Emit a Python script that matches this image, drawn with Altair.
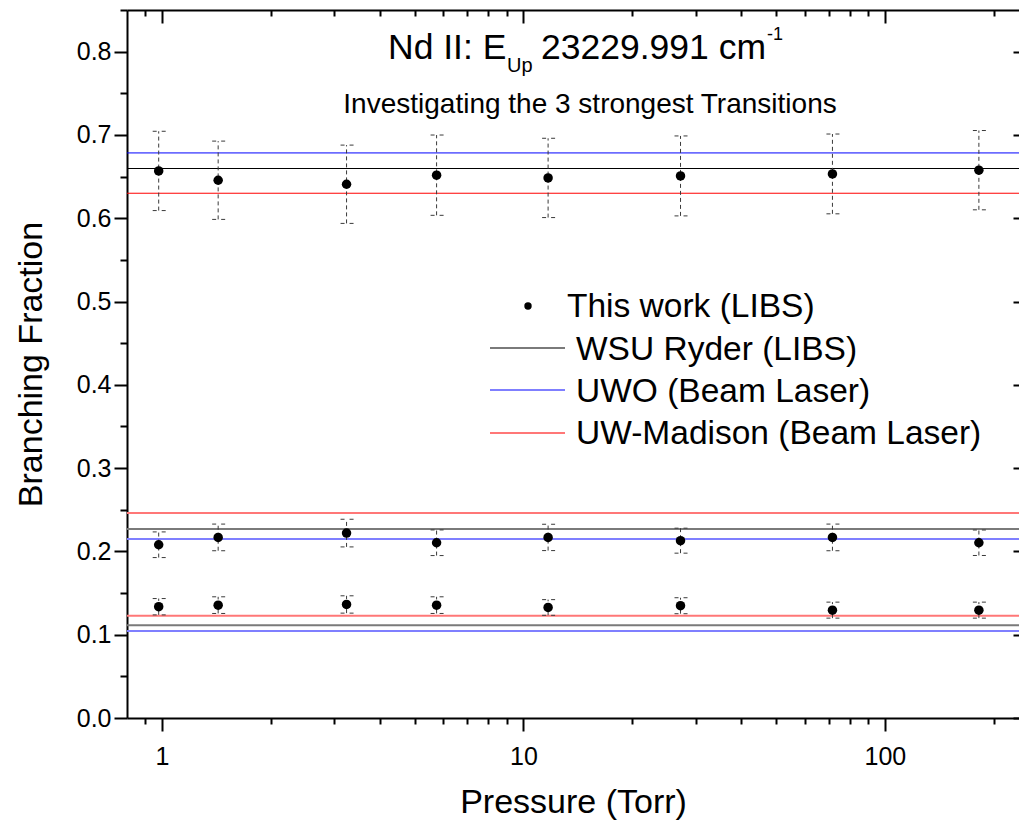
import altair as alt
import pandas as pd

# ---------------- data ----------------
pressure = [0.979, 1.43, 3.24, 5.75, 11.7, 27.2, 71.6, 182]

bf_strong1 = [0.6568, 0.6456, 0.6408, 0.6517, 0.6484, 0.6508, 0.6532, 0.6577]
err_strong1 = [0.0476, 0.0470, 0.0470, 0.0482, 0.0476, 0.0480, 0.0479, 0.0476]

bf_strong2 = [0.2080, 0.2168, 0.2220, 0.2104, 0.2168, 0.2129, 0.2168, 0.2104]
err_strong2 = [0.0154, 0.0160, 0.0166, 0.0154, 0.0158, 0.0150, 0.0160, 0.0153]

bf_strong3 = [0.1336, 0.1355, 0.1363, 0.1355, 0.1327, 0.1348, 0.1295, 0.1295]
err_strong3 = [0.0098, 0.0100, 0.0104, 0.0100, 0.0094, 0.0096, 0.0096, 0.0096]

series_names = ["This work (LIBS)", "WSU Ryder (LIBS)", "UWO (Beam Laser)", "UW-Madison (Beam Laser)"]
wsu_ryder = [0.6597, 0.2268, 0.1115]
uwo = [0.6784, 0.2148, 0.1043]
uw_madison = [0.6300, 0.2460, 0.1228]

x_major = [1, 10, 100]
x_minor = [0.9, 2, 3, 4, 5, 6, 7, 8, 9, 20, 30, 40, 50, 60, 70, 80, 90, 200]
y_major = [0.0, 0.1, 0.2, 0.3, 0.4, 0.5, 0.6, 0.7, 0.8]
y_minor = [0.05, 0.15, 0.25, 0.35, 0.45, 0.55, 0.65, 0.75, 0.85]

title_main = "Nd II: E"
title_sub = "Up"
title_rest = "23229.991 cm"
title_sup = "-1"
subtitle = "Investigating the 3 strongest Transitions"
x_title = "Pressure (Torr)"
y_title = "Branching Fraction"

# ---------------- tables ----------------
rows = []
for bfs, errs in [(bf_strong1, err_strong1), (bf_strong2, err_strong2), (bf_strong3, err_strong3)]:
    for p, b, e in zip(pressure, bfs, errs):
        rows.append({"p": p, "bf": b, "lo": b - e, "hi": b + e})
pts = pd.DataFrame(rows)

line_rows = []
for name, vals in zip(series_names[1:], [wsu_ryder, uwo, uw_madison]):
    for i, v in enumerate(vals):
        line_rows.append({"source": name, "value": v, "strongest": i == 0})
lines = pd.DataFrame(line_rows)

FONT = "Liberation Sans"
W, H = 892, 708
xs = alt.Scale(type="log", domain=[0.8, 235], nice=False)
ys = alt.Scale(domain=[0, 0.85], nice=False, zero=False)

pure = ["#000000", "#0000ff", "#ff0000"]
soft = ["#7a7a7a", "#7f7fff", "#ff7777"]


def axis(**kw):
    base = dict(grid=False, labels=False, domain=False, title=None, tickColor="black",
                tickWidth=2, domainColor="black", domainWidth=2)
    base.update(kw)
    return alt.Axis(**base)


# points with main bottom + left axes
points = alt.Chart(pts).mark_circle(size=90, color="black", opacity=1).encode(
    x=alt.X("p:Q", scale=xs, axis=axis(orient="bottom", values=x_major, labels=True, domain=True,
                                        tickSize=13, format="d", labelFontSize=25, labelFont=FONT,
                                        labelColor="black", labelPadding=13, labelFlush=False,
                                        title=x_title, titleFont=FONT, titleFontSize=34,
                                        titleFontWeight="normal", titleColor="black",
                                        titleY=94, titleBaseline="alphabetic")),
    y=alt.Y("bf:Q", scale=ys, axis=axis(orient="left", values=y_major, labels=True, domain=True,
                                         tickSize=13, format=".1f", labelFontSize=25, labelFont=FONT,
                                         labelColor="black", labelPadding=3, labelFlush=False,
                                         title=y_title, titleFont=FONT, titleFontSize=34,
                                         titleFontWeight="normal", titleColor="black",
                                         titleX=-86, titleBaseline="alphabetic")),
)

# error bars (dashed) with minor bottom + minor left axes
err = alt.Chart(pts).mark_rule(color="#3a3a3a", strokeDash=[4, 3], strokeWidth=1).encode(
    x=alt.X("p:Q", scale=xs, axis=axis(orient="bottom", values=x_minor, tickSize=6)),
    y=alt.Y("lo:Q", scale=ys, axis=axis(orient="left", values=y_minor, tickSize=7)),
    y2="hi:Q",
)

cap_hi = alt.Chart(pts).mark_rule(color="#3a3a3a", strokeDash=[4, 5], strokeWidth=1,
                                  xOffset=-6, x2Offset=7).encode(
    x=alt.X("p:Q", scale=xs, axis=axis(orient="top", values=x_major, tickSize=13, offset=-13)),
    x2="p:Q",
    y=alt.Y("hi:Q", scale=ys, axis=axis(orient="right", values=y_major, tickSize=6, offset=-6)),
)

cap_lo = alt.Chart(pts).mark_rule(color="#3a3a3a", strokeDash=[4, 5], strokeWidth=1,
                                  xOffset=-6, x2Offset=7).encode(
    x=alt.X("p:Q", scale=xs, axis=axis(orient="top", values=x_minor, tickSize=6, offset=-6)),
    x2="p:Q",
    y=alt.Y("lo:Q", scale=ys, axis=None),
)

frame_top = alt.Chart(pts).mark_point(opacity=0).encode(
    x=alt.X("p:Q", scale=xs, axis=axis(orient="top", values=x_major, domain=True, ticks=False)),
    y=alt.Y("bf:Q", scale=ys, axis=None),
)

ref_strong = alt.Chart(lines).transform_filter("datum.strongest").mark_rule(strokeWidth=1).encode(
    y=alt.Y("value:Q", scale=ys, axis=None),
    color=alt.Color("source:N", scale=alt.Scale(domain=series_names[1:], range=pure), legend=None),
)
ref_other = alt.Chart(lines).transform_filter("!datum.strongest").mark_rule(strokeWidth=2).encode(
    y=alt.Y("value:Q", scale=ys, axis=None),
    stroke=alt.Stroke("source:N", scale=alt.Scale(domain=series_names[1:], range=soft), legend=None),
)


def txt(s, x, y, size, align="left"):
    return alt.Chart(pd.DataFrame({"t": [s]})).mark_text(
        font=FONT, fontSize=size, align=align, baseline="alphabetic"
    ).encode(text="t:N", x=alt.value(x), y=alt.value(y), color=alt.value("black"))


titles = [
    txt(title_main, 261, 49, 35.5),
    txt(title_sub, 380, 62, 20),
    txt(title_rest, 414, 49, 35.5),
    txt(title_sup, 640, 30, 18),
    txt(subtitle, 463, 103, 28, align="center"),
]

# manual legend
leg_text = [
    txt(series_names[0], 440, 307, 33.5),
    txt(series_names[1], 449, 350, 33.5),
    txt(series_names[2], 449, 392, 33.5),
    txt(series_names[3], 449, 434, 33.5),
]
leg_dot = alt.Chart(pd.DataFrame({"s": [series_names[0]]})).mark_circle(size=55, opacity=1).encode(
    x=alt.value(401), y=alt.value(296), color=alt.value("black"))
leg_lines = [
    alt.Chart(pd.DataFrame({"s": [n]})).mark_rule(strokeWidth=2).encode(
        x=alt.value(363), x2=alt.value(438), y=alt.value(yy), color=alt.value(c))
    for n, c, yy in zip(series_names[1:], soft, [338, 380, 423])
]

chart = alt.layer(
    ref_strong, ref_other, err, cap_hi, cap_lo, frame_top, points, *titles, *leg_text, leg_dot, *leg_lines
).resolve_axis(x="independent", y="independent").resolve_scale(color="independent", stroke="independent").properties(
    width=W, height=H,
    padding={"left": 127, "top": 10, "right": 0, "bottom": 105},
    autosize=alt.AutoSizeParams(type="none"),
    background="white",
).configure_view(stroke=None)

chart.save("out.html", embed_options={"renderer": "svg", "actions": False})
